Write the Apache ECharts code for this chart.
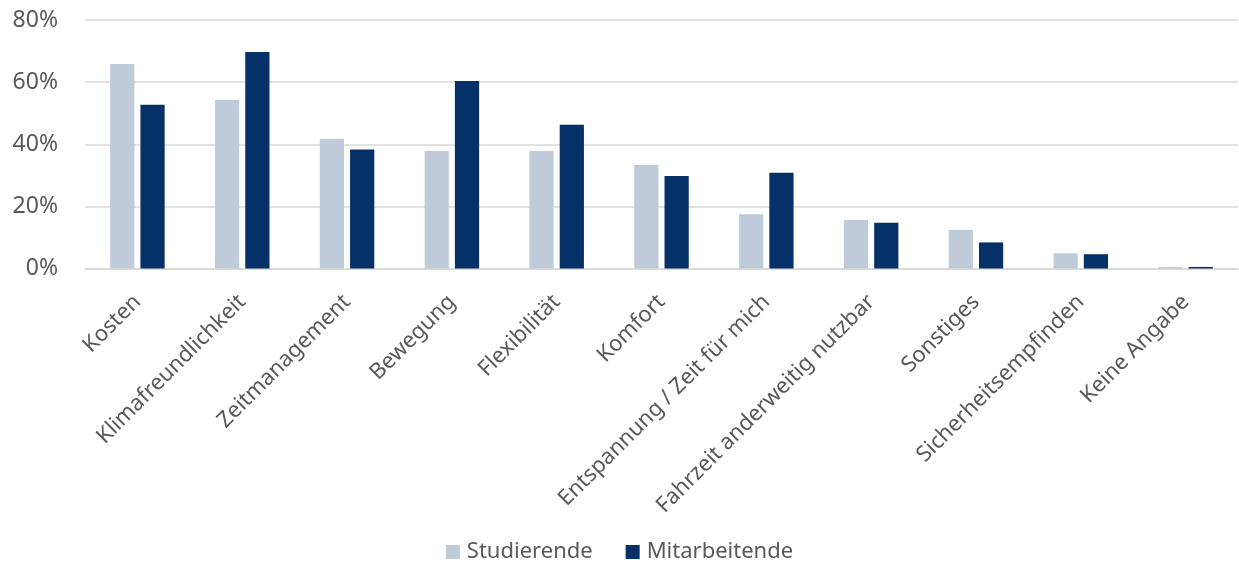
<!DOCTYPE html>
<html>
<head>
<meta charset="utf-8">
<script src="https://cdn.jsdelivr.net/npm/echarts@6/dist/echarts.min.js"></script>
<style>
  html, body { margin: 0; padding: 0; background: #fff; }
  #chart { width: 1239px; height: 563px; }
</style>
</head>
<body>
<div id="chart"></div>
<script>
// Motive für die Verkehrsmittelwahl, Anteil in Prozent
const categories = [
  'Kosten', 'Klimafreundlichkeit', 'Zeitmanagement', 'Bewegung', 'Flexibilität',
  'Komfort', 'Entspannung / Zeit für mich', 'Fahrzeit anderweitig nutzbar',
  'Sonstiges', 'Sicherheitsempfinden', 'Keine Angabe'
];
const studierende    = [65.8, 54.3, 41.8, 37.8, 37.8, 33.3, 17.5, 15.6, 12.4, 4.9, 0.5];
const mitarbeitende  = [52.7, 69.7, 38.3, 60.4, 46.3, 29.8, 30.8, 14.7, 8.4, 4.6, 0.5];
const seriesNames    = ['Studierende', 'Mitarbeitende'];
const seriesColors   = ['#c0cbd9', '#053068'];
const yTicks         = [0, 20, 40, 60, 80];

const font = '"Noto Sans", "Open Sans", sans-serif';
const textColor = '#595959';

const chart = echarts.init(document.getElementById('chart'), null, { renderer: 'canvas' });
chart.setOption({
  animation: false,
  textStyle: { fontFamily: font },
  grid: { left: 85, right: 1, top: 20, bottom: 294.5, containLabel: false },
  legend: {
    data: seriesNames,
    top: 535,
    left: 'center',
    itemWidth: 14,
    itemHeight: 14,
    itemGap: 33,
    icon: 'rect',
    textStyle: { fontFamily: font, fontSize: 22, lineHeight: 24, color: textColor, padding: [0, 0, 0, 2] }
  },
  xAxis: {
    type: 'category',
    data: categories,
    axisTick: { show: false },
    axisLine: { lineStyle: { color: '#d9d9d9', width: 1.5 } },
    axisLabel: {
      rotate: 45,
      interval: 0,
      margin: 30,
      fontFamily: font,
      fontSize: 22,
      color: textColor
    }
  },
  yAxis: {
    type: 'value',
    min: yTicks[0],
    max: yTicks[yTicks.length - 1],
    interval: 20,
    axisLine: { show: false },
    axisTick: { show: false },
    splitLine: { lineStyle: { color: '#d9d9d9', width: 1.5 } },
    axisLabel: {
      margin: 27,
      fontFamily: font,
      fontSize: 23,
      color: textColor,
      formatter: v => v + '%'
    }
  },
  series: seriesNames.map((name, i) => ({
    name,
    type: 'bar',
    data: i === 0 ? studierende : mitarbeitende,
    barGap: '25%',
    barCategoryGap: '48%',
    itemStyle: { color: seriesColors[i] }
  }))
});
</script>
</body>
</html>
